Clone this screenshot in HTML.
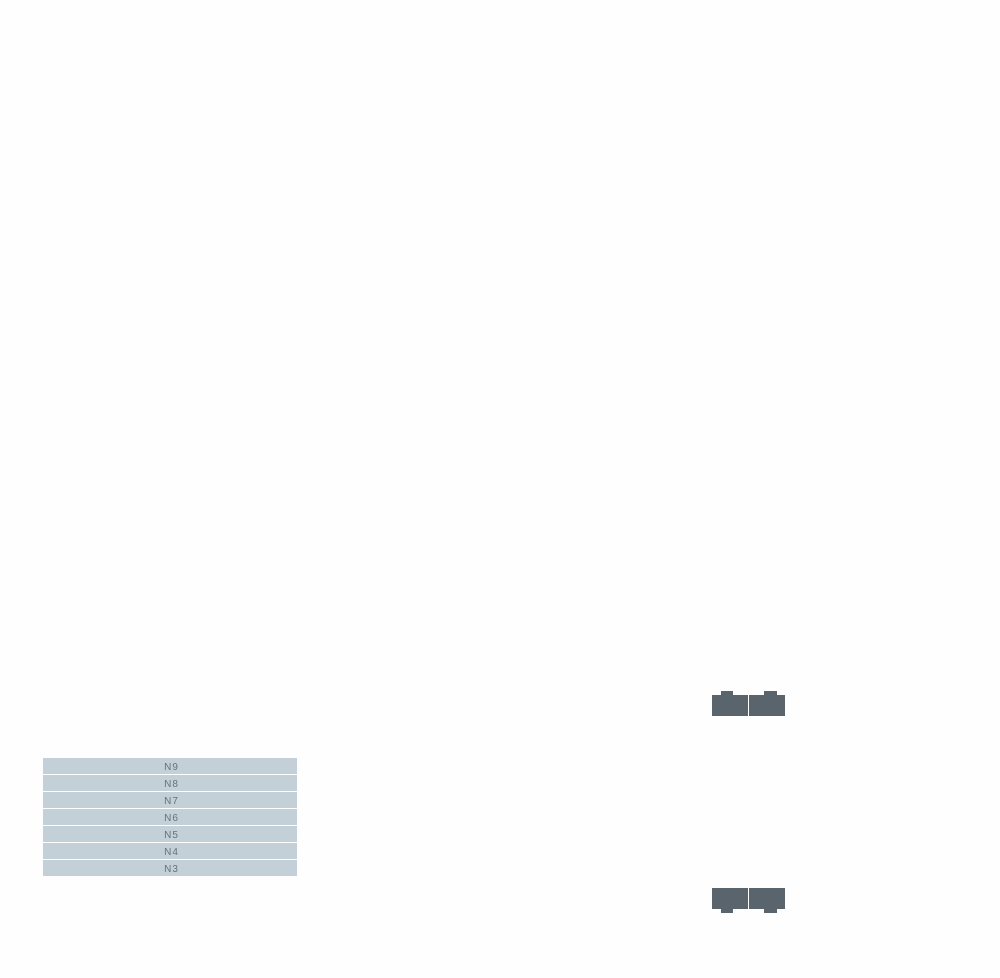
<!DOCTYPE html>
<html><head><style>
body{margin:0;width:1000px;height:978px;background:#fefefe;position:relative;font-family:"Liberation Sans",sans-serif;}
.r{position:absolute;left:43px;width:254px;height:16px;background:#c4d0d8;color:#66727a;font-size:10px;line-height:19px;text-align:center;letter-spacing:1px;text-indent:3px;overflow:hidden}
.b{position:absolute;background:#59646c}
</style></head><body>
<div class="r" style="top:758px">N9</div>
<div class="r" style="top:775px">N8</div>
<div class="r" style="top:792px">N7</div>
<div class="r" style="top:809px">N6</div>
<div class="r" style="top:826px">N5</div>
<div class="r" style="top:843px">N4</div>
<div class="r" style="top:860px">N3</div>
<div class="b" style="left:712px;top:695px;width:36px;height:21px"></div>
<div class="b" style="left:749px;top:695px;width:36px;height:21px"></div>
<div class="b" style="left:721px;top:691px;width:12px;height:4px"></div>
<div class="b" style="left:764px;top:691px;width:13px;height:4px"></div>
<div class="b" style="left:712px;top:888px;width:36px;height:21px"></div>
<div class="b" style="left:749px;top:888px;width:36px;height:21px"></div>
<div class="b" style="left:721px;top:909px;width:12px;height:4px"></div>
<div class="b" style="left:764px;top:909px;width:13px;height:4px"></div>
</body></html>
